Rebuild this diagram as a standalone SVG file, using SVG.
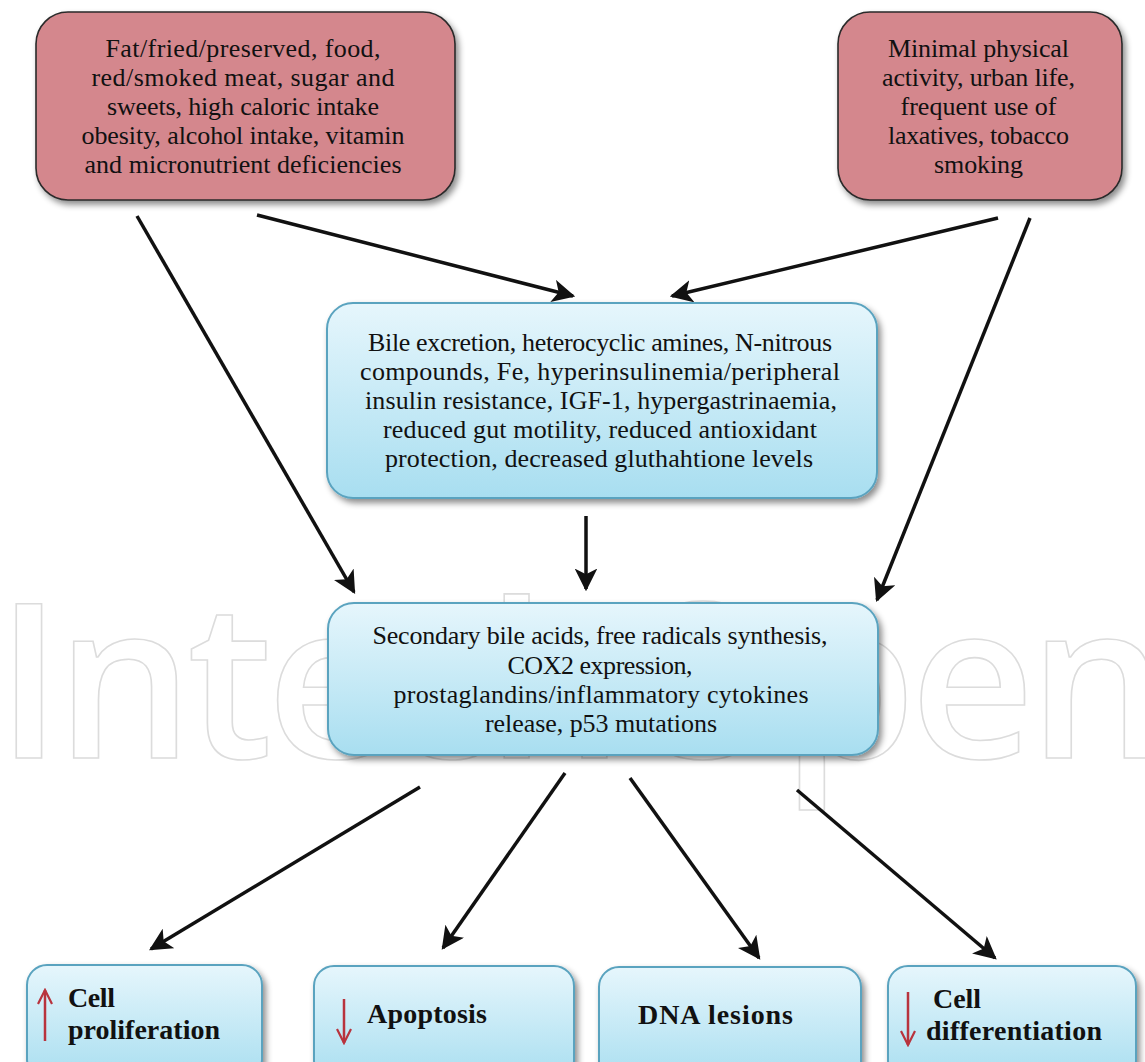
<svg xmlns="http://www.w3.org/2000/svg" width="1145" height="1062" viewBox="0 0 1145 1062">
<defs>
<linearGradient id="blue" x1="0" y1="0" x2="0" y2="1">
<stop offset="0" stop-color="#e6f6fc"/>
<stop offset="1" stop-color="#a8def0"/>
</linearGradient>
<filter id="sh" x="-10%" y="-10%" width="125%" height="130%">
<feDropShadow dx="3" dy="4" stdDeviation="3" flood-color="#000" flood-opacity="0.45"/>
</filter>
<marker id="ah" viewBox="0 0 20 20" refX="18" refY="10" markerWidth="6.5" markerHeight="6.5" markerUnits="strokeWidth" orient="auto">
<path d="M0,0 L20,10 L0,20 L5,10 Z" fill="#111"/>
</marker>
<marker id="rh" viewBox="0 0 20 20" refX="18" refY="10" markerWidth="7" markerHeight="7" markerUnits="strokeWidth" orient="auto">
<path d="M2,2 L18,10 L2,18" fill="none" stroke="#b8333d" stroke-width="2.5"/>
</marker>
</defs>
<style>
.red{fill:#d4878d;stroke:#2a2a2a;stroke-width:1.6}
.blue{fill:url(#blue);stroke:#5aa3bf;stroke-width:2}
.t{font-family:"Liberation Serif","Times New Roman",serif;font-size:26px;fill:#111;text-anchor:middle}
.b{font-family:"Liberation Serif","Times New Roman",serif;font-size:28px;font-weight:bold;fill:#111}
.con{stroke:#111;stroke-width:3.5;fill:none;marker-end:url(#ah)}
.up{stroke:#b8333d;stroke-width:2.5;fill:none;marker-end:url(#rh)}
.wm{font-family:"Open Sans","DejaVu Sans",sans-serif;font-weight:600;font-size:216px;fill:none;stroke:#dcdcdc;stroke-width:1.6}
</style>
<rect width="1145" height="1062" fill="#fff"/>
<text class="wm" x="-4" y="758" textLength="1170" lengthAdjust="spacing">IntechOpen</text>

<g id="connectors">
<line class="con" x1="137" y1="216" x2="354" y2="592"/>
<line class="con" x1="257" y1="215" x2="573" y2="296"/>
<line class="con" x1="998" y1="218" x2="672" y2="296"/>
<line class="con" x1="1030" y1="218" x2="877" y2="600"/>
<line class="con" x1="586" y1="516" x2="586" y2="589"/>
<line class="con" x1="420" y1="787" x2="151" y2="949"/>
<line class="con" x1="565" y1="773" x2="443" y2="948"/>
<line class="con" x1="630" y1="778" x2="759" y2="958"/>
<line class="con" x1="797" y1="790" x2="995" y2="958"/>
</g>

<g id="node-diet">
<rect class="red" x="36" y="12" width="419" height="188" rx="32" filter="url(#sh)"/>
<text class="t" x="243" y="57" textLength="275">Fat/fried/preserved, food,</text>
<text class="t" x="243" y="86" textLength="303">red/smoked meat, sugar and</text>
<text class="t" x="243" y="115" textLength="272">sweets, high caloric intake</text>
<text class="t" x="243" y="144" textLength="323">obesity, alcohol intake, vitamin</text>
<text class="t" x="243" y="173" textLength="317">and micronutrient deficiencies</text>
</g>

<g id="node-lifestyle">
<rect class="red" x="838" y="12" width="284" height="188" rx="32" filter="url(#sh)"/>
<text class="t" x="978.5" y="57" textLength="181">Minimal physical</text>
<text class="t" x="978.5" y="86" textLength="193">activity, urban life,</text>
<text class="t" x="978.5" y="115" textLength="156">frequent use of</text>
<text class="t" x="978.5" y="144" textLength="181">laxatives, tobacco</text>
<text class="t" x="978.5" y="173" textLength="89">smoking</text>
</g>

<g id="node-mediators">
<rect class="blue" x="327" y="303" width="550" height="195" rx="26" filter="url(#sh)"/>
<text class="t" x="600" y="351" textLength="464">Bile excretion, heterocyclic amines, N-nitrous</text>
<text class="t" x="600" y="380" textLength="480">compounds, Fe, hyperinsulinemia/peripheral</text>
<text class="t" x="601" y="409" textLength="472">insulin resistance, IGF-1, hypergastrinaemia,</text>
<text class="t" x="600" y="438" textLength="434">reduced gut motility, reduced antioxidant</text>
<text class="t" x="599" y="467" textLength="428">protection, decreased gluthahtione levels</text>
</g>

<g id="node-secondary">
<rect class="blue" x="328" y="603" width="550" height="152" rx="26" filter="url(#sh)"/>
<text class="t" x="600" y="644" textLength="455">Secondary bile acids, free radicals synthesis,</text>
<text class="t" x="600" y="674" textLength="185">COX2 expression,</text>
<text class="t" x="601" y="703" textLength="415">prostaglandins/inflammatory cytokines</text>
<text class="t" x="601" y="732" textLength="232">release, p53 mutations</text>
</g>

<g id="node-proliferation">
<rect class="blue" x="27" y="965" width="235" height="115" rx="20" filter="url(#sh)"/>
<line class="up" x1="45" y1="1041" x2="45" y2="990"/>
<text class="b" x="68" y="1007" textLength="47">Cell</text>
<text class="b" x="68" y="1039" textLength="152">proliferation</text>
</g>

<g id="node-apoptosis">
<rect class="blue" x="314" y="966" width="260" height="115" rx="20" filter="url(#sh)"/>
<line class="up" x1="344" y1="999" x2="344" y2="1043"/>
<text class="b" x="367" y="1023" textLength="120">Apoptosis</text>
</g>

<g id="node-dna">
<rect class="blue" x="599" y="967" width="262" height="115" rx="20" filter="url(#sh)"/>
<text class="b" x="638" y="1024" textLength="155">DNA lesions</text>
</g>

<g id="node-differentiation">
<rect class="blue" x="888" y="966" width="248" height="115" rx="20" filter="url(#sh)"/>
<line class="up" x1="908" y1="992" x2="908" y2="1045"/>
<text class="b" x="933" y="1008" textLength="48">Cell</text>
<text class="b" x="926" y="1040" textLength="176">differentiation</text>
</g>
</svg>
